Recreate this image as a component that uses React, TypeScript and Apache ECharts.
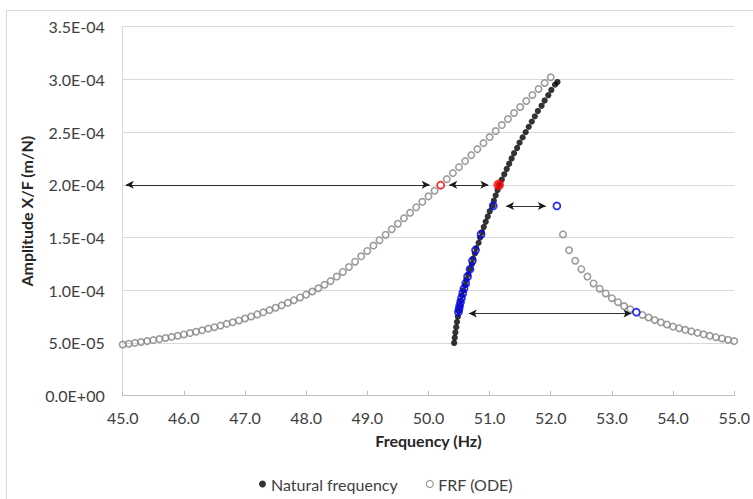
import React, { useEffect, useRef } from "react";
import * as echarts from "echarts";

// ---- data ----
const frfLeft: [number, number][] = [
  [45.0, 4.85e-5], [45.1, 4.93e-5], [45.2, 5.01e-5], [45.3, 5.09e-5], [45.4, 5.18e-5],
  [45.5, 5.27e-5], [45.6, 5.37e-5], [45.7, 5.47e-5], [45.8, 5.58e-5], [45.9, 5.69e-5],
  [46.0, 5.81e-5], [46.1, 5.94e-5], [46.2, 6.07e-5], [46.3, 6.21e-5], [46.4, 6.36e-5],
  [46.5, 6.5e-5], [46.6, 6.65e-5], [46.7, 6.81e-5], [46.8, 6.97e-5], [46.9, 7.14e-5],
  [47.0, 7.32e-5], [47.1, 7.51e-5], [47.2, 7.71e-5], [47.3, 7.91e-5], [47.4, 8.12e-5],
  [47.5, 8.34e-5], [47.6, 8.57e-5], [47.7, 8.81e-5], [47.8, 9.06e-5], [47.9, 9.32e-5],
  [48.0, 9.59e-5], [48.1, 9.88e-5], [48.2, 1.019e-4], [48.3, 1.052e-4], [48.4, 1.087e-4],
  [48.5, 1.13e-4], [48.6, 1.174e-4], [48.7, 1.221e-4], [48.8, 1.271e-4], [48.9, 1.322e-4],
  [49.0, 1.373e-4], [49.1, 1.424e-4], [49.2, 1.475e-4], [49.3, 1.527e-4], [49.4, 1.579e-4],
  [49.5, 1.631e-4], [49.6, 1.683e-4], [49.7, 1.735e-4], [49.8, 1.787e-4], [49.9, 1.839e-4],
  [50.0, 1.891e-4], [50.1, 1.944e-4], [50.2, 1.997e-4], [50.3, 2.054e-4], [50.4, 2.111e-4],
  [50.5, 2.168e-4], [50.6, 2.225e-4], [50.7, 2.282e-4], [50.8, 2.339e-4], [50.9, 2.396e-4],
  [51.0, 2.453e-4], [51.1, 2.51e-4], [51.2, 2.567e-4], [51.3, 2.624e-4], [51.4, 2.681e-4],
  [51.5, 2.738e-4], [51.6, 2.795e-4], [51.7, 2.852e-4], [51.8, 2.909e-4], [51.9, 2.966e-4],
  [52.0, 3.02e-4],
];

const frfRight: [number, number][] = [
  [52.1, 1.8e-4], [52.2, 1.53e-4], [52.3, 1.38e-4], [52.4, 1.28e-4], [52.5, 1.2e-4],
  [52.6, 1.13e-4], [52.7, 1.065e-4], [52.8, 1.015e-4], [52.9, 9.7e-5], [53.0, 9.25e-5],
  [53.1, 8.87e-5], [53.2, 8.5e-5], [53.3, 8.2e-5], [53.4, 7.92e-5], [53.5, 7.66e-5],
  [53.6, 7.42e-5], [53.7, 7.18e-5], [53.8, 6.96e-5], [53.9, 6.75e-5], [54.0, 6.55e-5],
  [54.1, 6.4e-5], [54.2, 6.25e-5], [54.3, 6.1e-5], [54.4, 5.96e-5], [54.5, 5.82e-5],
  [54.6, 5.68e-5], [54.7, 5.55e-5], [54.8, 5.43e-5], [54.9, 5.31e-5], [55.0, 5.18e-5],
];

const naturalFreq: [number, number][] = [
  [50.42, 5.0e-5], [50.43, 5.5e-5], [50.441, 6.0e-5], [50.454, 6.5e-5], [50.467, 7.0e-5],
  [50.481, 7.5e-5], [50.496, 8.0e-5], [50.512, 8.5e-5], [50.529, 9.0e-5], [50.547, 9.5e-5],
  [50.566, 1.0e-4], [50.6, 1.05e-4], [50.62, 1.1e-4], [50.65, 1.15e-4], [50.68, 1.2e-4],
  [50.71, 1.25e-4], [50.73, 1.3e-4], [50.76, 1.35e-4], [50.78, 1.4e-4], [50.82, 1.45e-4],
  [50.845, 1.5e-4], [50.875, 1.55e-4], [50.905, 1.6e-4], [50.937, 1.65e-4], [50.97, 1.7e-4],
  [51.003, 1.75e-4], [51.05, 1.8e-4], [51.07, 1.85e-4], [51.1, 1.9e-4], [51.13, 1.95e-4],
  [51.16, 2.0e-4], [51.2, 2.05e-4], [51.24, 2.1e-4], [51.28, 2.15e-4], [51.32, 2.2e-4],
  [51.36, 2.25e-4], [51.4, 2.3e-4], [51.45, 2.35e-4], [51.49, 2.4e-4], [51.54, 2.45e-4],
  [51.59, 2.5e-4], [51.64, 2.55e-4], [51.69, 2.6e-4], [51.74, 2.65e-4], [51.79, 2.7e-4],
  [51.85, 2.75e-4], [51.9, 2.8e-4], [51.96, 2.85e-4], [52.01, 2.9e-4], [52.07, 2.95e-4],
  [52.11, 2.975e-4],
];

const blueOnBackbone: [number, number][] = [
  [51.06, 1.8e-4], [50.86, 1.53e-4], [50.77, 1.38e-4], [50.72, 1.28e-4], [50.68, 1.2e-4],
  [50.64, 1.13e-4], [50.61, 1.065e-4], [50.58, 1.015e-4], [50.56, 9.7e-5], [50.54, 9.25e-5],
  [50.525, 8.87e-5], [50.51, 8.5e-5], [50.5, 8.2e-5], [50.49, 7.92e-5],
];

const blueOnFrf: [number, number][] = [[52.1, 1.8e-4], [53.4, 7.92e-5]];
const redOnFrf: [number, number][] = [[50.2, 1.997e-4]];
const redOnBackbone: [number, number][] = [[51.15, 2.0e-4]];

// double-headed arrows: [x1, x2, y]
const arrows: [number, number, number][] = [
  [45.05, 50.02, 2.0e-4],
  [50.34, 50.98, 2.0e-4],
  [51.27, 51.92, 1.8e-4],
  [50.66, 53.32, 7.8e-5],
];

const xTicks = { min: 45, max: 55, interval: 1 };
const yTicks = { min: 0, max: 3.5e-4, interval: 0.5e-4 };

const FONT = "Lato";

function sci(v: number): string {
  if (Math.abs(v) < 1e-12) return "0.0E+00";
  const s = v.toExponential(1);
  const [m, e] = s.split("e");
  const n = parseInt(e, 10);
  return m + "E" + (n < 0 ? "-" : "+") + String(Math.abs(n)).padStart(2, "0");
}

export default function App() {
  const ref = useRef<HTMLDivElement>(null);
  useEffect(() => {
    if (!ref.current) return;
    const chart = echarts.init(ref.current, undefined, { renderer: "svg" });
    const option: any = {
      animation: false,
      backgroundColor: "#ffffff",
      textStyle: { fontFamily: FONT },
      graphic: [
        {
          type: "rect",
          silent: true,
          z: -10,
          shape: { x: 6.5, y: 10.5, width: 800, height: 600 },
          style: { fill: "none", stroke: "#d9d9d9", lineWidth: 1 },
        },
      ],
      grid: { left: 122.7, right: 17.3, top: 26.7, bottom: 103.3, containLabel: false },
      xAxis: {
        type: "value",
        min: xTicks.min,
        max: xTicks.max,
        interval: xTicks.interval,
        name: "Frequency (Hz)",
        nameLocation: "middle",
        nameGap: 37,
        nameTextStyle: { fontFamily: FONT, fontSize: 16, fontWeight: "bold", color: "#262626" },
        axisLine: { show: true, lineStyle: { color: "#bfbfbf", width: 1 } },
        axisTick: { show: true, inside: true, length: 5, lineStyle: { color: "#bfbfbf" } },
        splitLine: { show: false },
        axisLabel: {
          margin: 14,
          fontFamily: FONT,
          fontSize: 16,
          color: "#404040",
          formatter: (v: number) => v.toFixed(1),
        },
      },
      yAxis: {
        type: "value",
        min: yTicks.min,
        max: yTicks.max,
        interval: yTicks.interval,
        name: "Amplitude X/F (m/N)",
        nameLocation: "middle",
        nameGap: 80,
        nameTextStyle: { fontFamily: FONT, fontSize: 16, fontWeight: "bold", color: "#262626" },
        axisLine: { show: true, lineStyle: { color: "#d9d9d9", width: 1 } },
        axisTick: { show: false },
        splitLine: { show: true, lineStyle: { color: "#d9d9d9", width: 1 } },
        axisLabel: {
          margin: 18,
          fontFamily: FONT,
          fontSize: 16,
          color: "#404040",
          formatter: (v: number) => sci(v),
        },
      },
      legend: {
        top: 471,
        left: 254,
        itemWidth: 7,
        itemHeight: 7,
        itemGap: 28,
        textStyle: { fontFamily: FONT, fontSize: 16, color: "#404040" },
        data: [
          { name: "Natural frequency", icon: "circle", itemStyle: { color: "#000000", borderWidth: 0 } },
          {
            name: "FRF (ODE)",
            icon: "circle",
            itemStyle: { color: "#ffffff", borderColor: "#808080", borderWidth: 1.2 },
          },
        ],
      },
      series: [
        {
          name: "FRF (ODE)",
          type: "scatter",
          symbol: "circle",
          symbolSize: 6.4,
          itemStyle: { color: "rgba(255,255,255,0)", borderColor: "#838383", borderWidth: 1.6 },
          data: frfLeft.concat(frfRight),
          z: 2,
        },
        {
          name: "Natural frequency",
          type: "scatter",
          symbol: "circle",
          symbolSize: 6.2,
          itemStyle: { color: "#000000" },
          data: naturalFreq,
          z: 3,
        },
        {
          name: "blueBackbone",
          type: "scatter",
          symbol: "circle",
          symbolSize: 7,
          itemStyle: { color: "rgba(255,255,255,0)", borderColor: "#0000ff", borderWidth: 1.8 },
          data: blueOnBackbone,
          z: 4,
        },
        {
          name: "blueFrf",
          type: "scatter",
          symbol: "circle",
          symbolSize: 7,
          itemStyle: { color: "#ffffff", borderColor: "#0000ff", borderWidth: 1.7 },
          data: blueOnFrf,
          z: 4,
        },
        {
          name: "redFrf",
          type: "scatter",
          symbol: "circle",
          symbolSize: 7,
          itemStyle: { color: "#ffffff", borderColor: "#ff0000", borderWidth: 1.7 },
          data: redOnFrf,
          z: 4,
        },
        {
          name: "redBackbone",
          type: "scatter",
          symbol: "circle",
          symbolSize: 10.5,
          itemStyle: { color: "#ff0000" },
          data: redOnBackbone,
          z: 5,
        },
        {
          name: "arrows",
          type: "scatter",
          data: [],
          z: 6,
          markLine: {
            silent: true,
            animation: false,
            symbol: ["arrow", "arrow"],
            symbolSize: [6, 8],
            label: { show: false },
            lineStyle: { color: "#1a1a1a", width: 0.9, type: "solid" },
            emphasis: { disabled: true },
            data: arrows.map(([x1, x2, y]) => [{ coord: [x1, y] }, { coord: [x2, y] }]),
          },
        },
      ],
    };
    chart.setOption(option);
    return () => chart.dispose();
  }, []);
  return (
    <div
      ref={ref}
      style={{ position: "fixed", left: 0, top: 0, width: 753, height: 499, background: "#fff" }}
    />
  );
}
